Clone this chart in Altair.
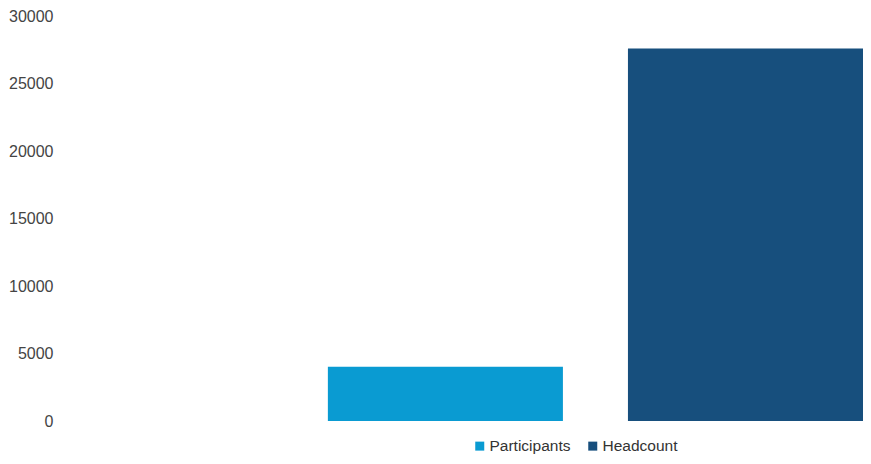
import altair as alt
import pandas as pd

series = ["Participants", "Headcount"]
values = [4020, 27600]
colors = ["#0a9bd2", "#174f7d"]
y_ticks = [0, 5000, 10000, 15000, 20000, 25000, 30000]

df = pd.DataFrame({"series": series, "value": values})

chart = alt.Chart(df).mark_bar().encode(
    x=alt.X("series:N", sort=series, axis=None,
            scale=alt.Scale(paddingInner=0.2167, paddingOuter=0.443, align=1)),
    y=alt.Y("value:Q", scale=alt.Scale(domain=[0, 30000], nice=False),
            axis=alt.Axis(values=y_ticks, format="d", title=None, grid=False, domain=False,
                          ticks=False, labelPadding=9, labelFontSize=16,
                          labelColor="#444444", labelFont="Liberation Sans")),
    color=alt.Color("series:N", sort=series,
                    scale=alt.Scale(domain=series, range=colors),
                    legend=alt.Legend(title=None, orient="none", direction="horizontal",
                                      legendX=410, legendY=422, symbolType="square",
                                      symbolSize=81, labelFontSize=15.5,
                                      labelFont="Liberation Sans", labelColor="#333333",
                                      columnPadding=14, labelOffset=2)),
).properties(
    width=801, height=405,
    autosize=alt.AutoSizeParams(type="none"),
    padding={"left": 54, "top": 8, "right": 0, "bottom": 35},
).configure_view(stroke=None)

chart.save("out.html", embed_options={"renderer": "svg", "actions": False})
